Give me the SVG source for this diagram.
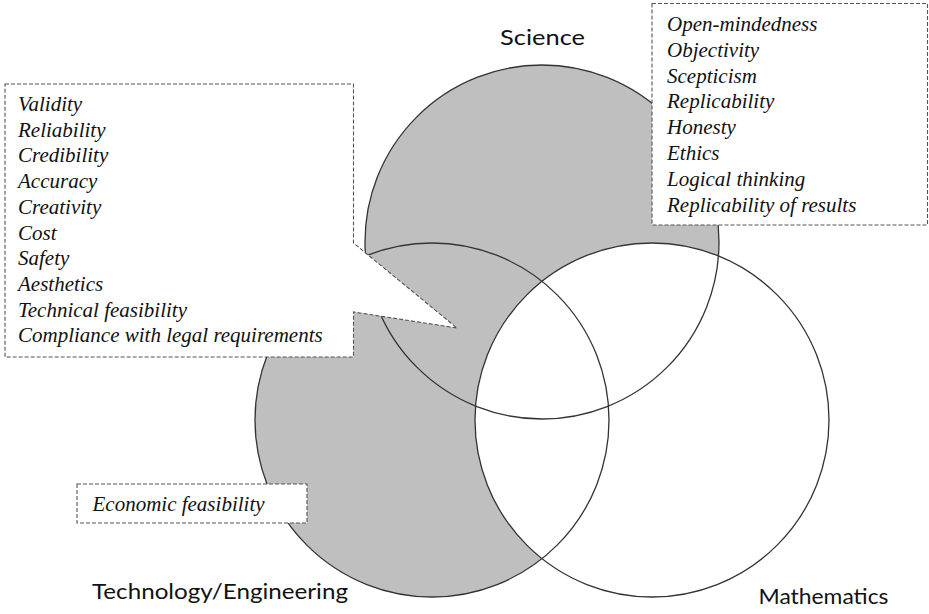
<svg xmlns="http://www.w3.org/2000/svg" width="929" height="614" viewBox="0 0 929 614">
<style>
.fillg{fill:#bfbfbf;stroke:none}
.fillw{fill:#ffffff;stroke:none}
.ring{fill:none;stroke:#333333;stroke-width:1.3}
.box{fill:#ffffff;stroke:#555555;stroke-width:1.1;stroke-dasharray:4 2}
.it{font-family:Liberation Serif,Tinos,DejaVu Serif,Noto Serif,serif;font-style:italic;font-size:21px;fill:#111111}
.lbl{font-family:Lato,Open Sans,sans-serif;font-size:21px;fill:#111111}
</style>
<rect width="929" height="614" fill="#ffffff"/>
<g id="circles-fill">
<circle class="fillg" cx="542" cy="242" r="177"/>
<circle class="fillg" cx="432" cy="420" r="177"/>
<circle class="fillw" cx="652" cy="420" r="177"/>
</g>
<g id="science"><circle class="ring" cx="542" cy="242" r="177"/></g>
<g id="technology"><circle class="ring" cx="432" cy="420" r="177"/></g>
<g id="mathematics"><circle class="ring" cx="652" cy="420" r="177"/></g>
<g id="tech-callout" font-family="Liberation Serif, DejaVu Serif, serif">
<path class="box" d="M5,84 H353.5 V243 L457,328 L353.5,312 V357 H5 Z"/>
<text class="it" x="18" y="111">Validity</text>
<text class="it" x="18" y="136.7">Reliability</text>
<text class="it" x="18" y="162.4">Credibility</text>
<text class="it" x="18" y="188.1">Accuracy</text>
<text class="it" x="18" y="213.8">Creativity</text>
<text class="it" x="18" y="239.5">Cost</text>
<text class="it" x="18" y="265.2">Safety</text>
<text class="it" x="18" y="290.9">Aesthetics</text>
<text class="it" x="18" y="316.6">Technical feasibility</text>
<text class="it" x="18" y="342.3">Compliance with legal requirements</text>
</g>
<g id="science-callout">
<rect class="box" x="652" y="3.5" width="275.5" height="221.5"/>
<text class="it" x="667" y="31">Open-mindedness</text>
<text class="it" x="667" y="56.8">Objectivity</text>
<text class="it" x="667" y="82.6">Scepticism</text>
<text class="it" x="667" y="108.4">Replicability</text>
<text class="it" x="667" y="134.2">Honesty</text>
<text class="it" x="667" y="160">Ethics</text>
<text class="it" x="667" y="185.8">Logical thinking</text>
<text class="it" x="667" y="211.6">Replicability of results</text>
</g>
<g id="economic-callout">
<rect class="box" x="77" y="484" width="230" height="39"/>
<text class="it" x="92.5" y="511">Economic feasibility</text>
</g>
<g id="labels">
<text class="lbl" x="500" y="45" textLength="85" lengthAdjust="spacingAndGlyphs">Science</text>
<text class="lbl" x="92" y="598.5" textLength="256" lengthAdjust="spacingAndGlyphs">Technology/Engineering</text>
<text class="lbl" x="758.5" y="604" textLength="130" lengthAdjust="spacingAndGlyphs">Mathematics</text>
</g>
</svg>
